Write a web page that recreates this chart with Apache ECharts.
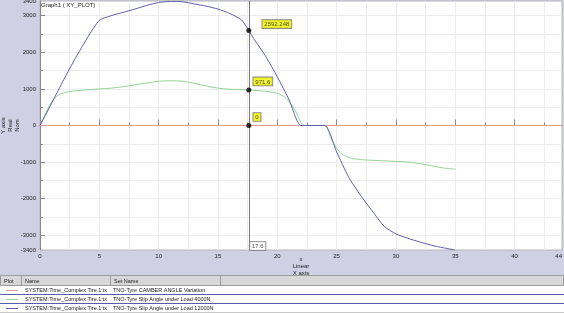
<!DOCTYPE html>
<html><head><meta charset="utf-8">
<script src="https://cdn.jsdelivr.net/npm/echarts@6/dist/echarts.min.js"></script>
<style>html,body{margin:0;padding:0;background:#fff}#c{width:564px;height:313px}</style>
</head><body><div id="c"></div>
<script>
const chartTitle = 'Graph1 ( XY_PLOT)';
const xAxisName = 'x\nLinear\nX axis';
const yAxisName = 'Y axis\nReal\nNom';
const xTickLabels = [0, 5, 10, 15, 20, 25, 30, 35, 40, 44];
const xMajorTicks = [0, 5, 10, 15, 20, 25, 30, 35, 40];
const xMinorTicks = [2.5, 5, 7.5, 10, 12.5, 15, 17.5, 20, 22.5, 25, 27.5, 30, 32.5, 35, 37.5, 40, 42.5];
const yTickLabels = [-3400, -3000, -2000, -1000, 0, 1000, 2000, 3000, 3400];
const yMajorTicks = [-3000, -2000, -1000, 0, 1000, 2000, 3000];
const yMinorTicks = [-3000, -2500, -2000, -1500, -1000, -500, 0, 500, 1000, 1500, 2000, 2500, 3000];

// 12000N load (blue)
const tLoad12000 = [0, 1, 2, 3, 4, 5, 6, 7, 8, 9, 10, 11, 12, 13, 14, 15, 16, 17, 17.6, 18, 19, 20, 21, 22, 24, 25, 26, 27, 28, 29, 30, 31, 32, 33, 34, 35];
const load12000 = [0, 620, 1250, 1850, 2400, 2870, 3000, 3090, 3180, 3280, 3360, 3390, 3380, 3320, 3260, 3180, 3060, 2880, 2592.248, 2380, 1900, 1330, 700, 0, 0, -720, -1400, -1900, -2330, -2750, -2960, -3080, -3180, -3270, -3340, -3400];
// 4000N load (green)
const tLoad4000 = [0, 0.5, 1, 1.5, 2, 2.5, 3, 4, 5, 6, 7, 8, 9, 10, 11, 12, 13, 14, 15, 16, 17, 17.6, 18, 19, 20, 20.5, 21, 21.5, 22, 22.3, 24, 24.5, 25, 25.5, 26, 27, 28, 29, 30, 31, 32, 33, 34, 35];
const load4000 = [0, 350, 650, 820, 890, 925, 950, 975, 1000, 1020, 1060, 1110, 1160, 1210, 1220, 1210, 1150, 1080, 1020, 990, 980, 971.6, 960, 935, 880, 800, 650, 420, 80, 0, 0, -330, -620, -790, -870, -930, -950, -965, -980, -1000, -1040, -1100, -1160, -1190];
// camber angle variation (red)
const tCamber = [0, 44];
const camber = [0, 0];

const cursorX = 17.6;
const cursorValues = [2592.248, 971.6, 0];
const cursorLabels = ['2592.248', '971.6', '0'];
const yMin = -3400, yMax = 3400, xMin = 0, xMax = 44;

const tableHeaders = ['Plot', 'Name', 'Set Name'];
const rowNames = ['SYSTEM:Time_Complex Tire.1:tx', 'SYSTEM:Time_Complex Tire.1:tx', 'SYSTEM:Time_Complex Tire.1:tx'];
const setNames = ['TNO-Tyre CAMBER ANGLE Variation', 'TNO-Tyre Slip Angle under Load 4000N', 'TNO-Tyre Slip Angle under Load 12000N'];

const colors = ['#e39a88', '#93d493', '#5d5da8'];
const FONT = 'Liberation Sans, Arial, sans-serif';

function pairs(xs, ys) { return xs.map((x, i) => [x, ys[i]]); }

const chart = echarts.init(document.getElementById('c'), null, {renderer: 'canvas'});

// table graphics
const g = [];
g.push({type: 'rect', shape: {x: 0, y: 275, width: 564, height: 38}, style: {fill: '#ffffff'}, silent: true});
g.push({type: 'rect', shape: {x: 0.5, y: 275.5, width: 563, height: 10}, style: {fill: '#d8d8d8', stroke: '#9c9c9c', lineWidth: 1}, silent: true});
const colX = [0, 21, 110, 220];
[21, 110, 220].forEach(x => g.push({type: 'line', shape: {x1: x + 0.5, y1: 276, x2: x + 0.5, y2: 285}, style: {stroke: '#9c9c9c', lineWidth: 1}, silent: true}));
tableHeaders.forEach((h, i) => g.push({type: 'text', x: colX[i] + 4, y: 281, style: {text: h, fontSize: 5.5, fontFamily: FONT, fill: '#222', verticalAlign: 'middle'}, silent: true}));
const rowCenters = [290, 299, 308];
rowCenters.forEach((cy, i) => {
  g.push({type: 'line', shape: {x1: 6, y1: cy + 0.5, x2: 18, y2: cy + 0.5}, style: {stroke: colors[i], lineWidth: 1}, silent: true});
  g.push({type: 'text', x: 25, y: cy, style: {text: rowNames[i], fontSize: 5.5, fontFamily: FONT, fill: '#222', verticalAlign: 'middle'}, silent: true});
  g.push({type: 'text', x: 113, y: cy, style: {text: setNames[i], fontSize: 5.5, fontFamily: FONT, fill: '#222', verticalAlign: 'middle'}, silent: true});
});
g.push({type: 'line', shape: {x1: 0, y1: 294.5, x2: 564, y2: 294.5}, style: {stroke: '#5a5aaa', lineWidth: 1}, silent: true});
g.push({type: 'line', shape: {x1: 0, y1: 303.5, x2: 564, y2: 303.5}, style: {stroke: '#5a5aaa', lineWidth: 1}, silent: true});
g.push({type: 'line', shape: {x1: 0, y1: 312.5, x2: 564, y2: 312.5}, style: {stroke: '#c8c8c8', lineWidth: 1}, silent: true});

const labelStyleBox = {
  show: true, fontSize: 6, fontFamily: FONT, color: '#222',
  backgroundColor: '#f2f200', borderColor: '#666', borderWidth: 0.8, padding: [1, 2, 0, 2], lineHeight: 7
};

const option = {
  backgroundColor: '#d0d0e4',
  animation: false,
  title: {text: chartTitle, left: 41, top: 2, padding: 0, textStyle: {fontSize: 6, fontWeight: 'normal', fontFamily: FONT, color: '#222'}},
  grid: {left: 40, right: 2, top: 1, bottom: 63, outerBoundsMode: 'none', containLabel: false, show: true, backgroundColor: '#ffffff', borderColor: '#b4b4b4', borderWidth: 1},
  xAxis: [
    {
      type: 'value', min: xMin, max: xMax, position: 'bottom',
      name: xAxisName, nameLocation: 'middle', nameGap: 6, nameMoveOverlap: false,
      nameTextStyle: {fontSize: 6, fontFamily: FONT, color: '#222', lineHeight: 7},
      axisLine: {show: true, lineStyle: {color: '#888', width: 1}},
      axisTick: {show: true, inside: true, length: 6, customValues: xMajorTicks, lineStyle: {color: '#888'}},
      axisLabel: {customValues: xTickLabels, fontSize: 6, fontFamily: FONT, color: '#222', margin: 3, alignMaxLabel: 'right', formatter: v => String(v)},
      splitLine: {show: false}
    },
    {
      type: 'value', min: xMin, max: xMax, position: 'bottom', offset: 0,
      axisLine: {show: false},
      axisTick: {show: true, inside: true, length: 3, customValues: xMinorTicks, lineStyle: {color: '#888'}},
      axisLabel: {show: false},
      splitLine: {show: true, lineStyle: {color: '#ececec', width: 1}}
    }
  ],
  yAxis: [
    {
      type: 'value', min: yMin, max: yMax, position: 'left',
      name: yAxisName, nameLocation: 'middle', nameGap: 19, nameRotate: 90, nameMoveOverlap: false,
      nameTextStyle: {fontSize: 6, fontFamily: FONT, color: '#222', lineHeight: 7},
      axisLine: {show: true, lineStyle: {color: '#888', width: 1}},
      axisTick: {show: true, inside: true, length: 5, customValues: yMajorTicks, lineStyle: {color: '#888'}},
      axisLabel: {customValues: yTickLabels, fontSize: 6, fontFamily: FONT, color: '#222', margin: 4, formatter: v => String(v)},
      splitLine: {show: false}
    },
    {
      type: 'value', min: yMin, max: yMax, position: 'left', offset: 0,
      axisLine: {show: false},
      axisTick: {show: true, inside: true, length: 3, customValues: yMinorTicks, lineStyle: {color: '#888'}},
      axisLabel: {show: false},
      splitLine: {show: true, lineStyle: {color: '#ececec', width: 1}}
    }
  ],
  graphic: g,
  series: [
    {name: setNames[0], type: 'line', data: pairs(tCamber, camber), showSymbol: false, lineStyle: {color: colors[0], width: 1}, z: 2},
    {name: setNames[1], type: 'line', data: pairs(tLoad4000, load4000), showSymbol: false, smooth: 0.3, lineStyle: {color: colors[1], width: 1}, z: 3},
    {name: setNames[2], type: 'line', data: pairs(tLoad12000, load12000), showSymbol: false, smooth: 0.2, lineStyle: {color: colors[2], width: 1}, z: 4},
    {
      name: 'cursor', type: 'scatter', z: 10, symbolSize: 5,
      itemStyle: {color: '#000'},
      data: cursorValues.map((v, i) => ({value: [cursorX, v]})),
      label: Object.assign({}, labelStyleBox, {
        position: [7, -10],
        formatter: p => cursorLabels[p.dataIndex]
      }),
      labelLayout: p => (p.dataIndex === 0 ? {dx: 9, dy: 2} : {}),
      markLine: {
        silent: true, symbol: 'none', label: {show: false},
        lineStyle: {color: '#7a7a7a', width: 1, type: 'solid'},
        data: [{xAxis: cursorX}]
      }
    },
    {
      name: 'cursorX', type: 'scatter', z: 10, symbolSize: 0,
      data: [[cursorX, yMin]],
      label: {
        show: true, position: [1, -8], fontSize: 6, fontFamily: FONT, color: '#222',
        backgroundColor: '#ffffff', borderColor: '#666', borderWidth: 0.8, padding: [1, 2, 0, 2], lineHeight: 7,
        formatter: p => String(p.value[0])
      }
    }
  ]
};
chart.setOption(option);
</script>
</body></html>
